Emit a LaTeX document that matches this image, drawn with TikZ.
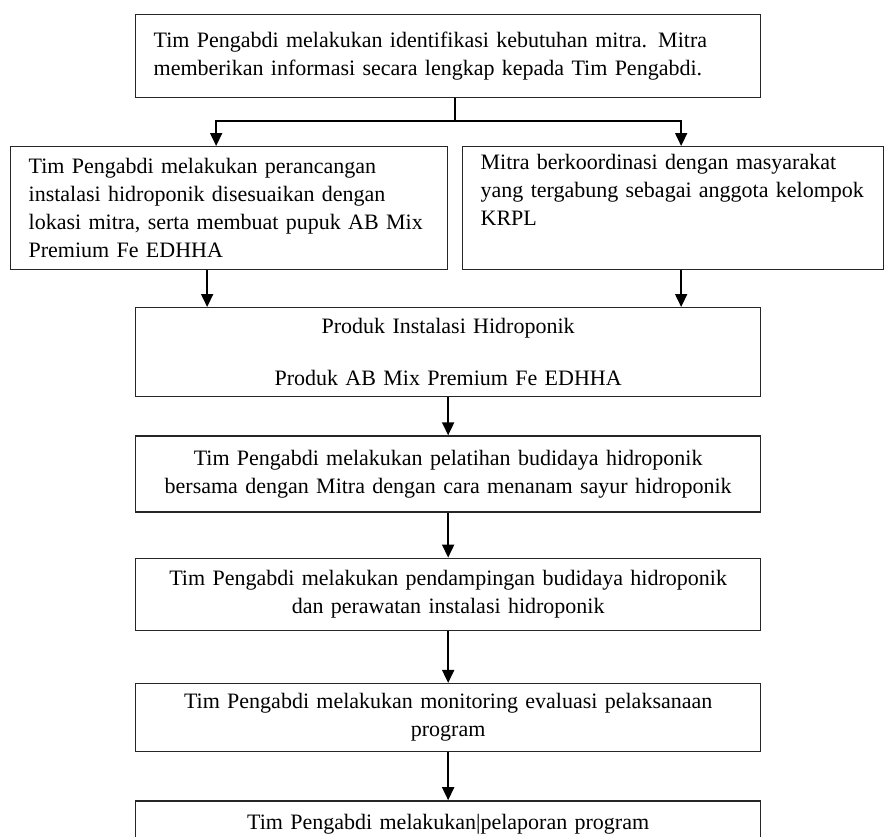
\documentclass[tikz,border=0pt]{standalone}
\usepackage{fontspec}
\setmainfont{Liberation Serif}
\usetikzlibrary{positioning,calc,arrows.meta}

\begin{document}
\begin{tikzpicture}[x=1pt,y=-1pt,>={Triangle[width=12pt,length=13pt]},font=\fontsize{22}{28}\selectfont]
  \tikzstyle{box}=[draw=black!85,rectangle,line width=1.3pt,inner xsep=18pt,inner ysep=3pt,anchor=north west]
  \tikzstyle{wide}=[box,minimum width=625pt,text width=589pt,align=center]
  \tikzstyle{link}=[->,line width=1.8pt]

  \useasboundingbox (0,0) rectangle (885,836);

  \node[box,minimum width=625pt,minimum height=83pt,text width=589pt,align=left] (ident) at (135,14)
    {Tim Pengabdi melakukan identifikasi kebutuhan mitra. Mitra\\memberikan informasi secara lengkap kepada Tim Pengabdi.};

  \node[box,minimum width=437pt,minimum height=123pt,text width=401pt,align=left] (rancang) at (10,146)
    {Tim Pengabdi melakukan perancangan\\instalasi hidroponik disesuaikan dengan\\lokasi mitra, serta membuat pupuk AB Mix\\Premium Fe EDHHA};
  \node[box,minimum width=421pt,minimum height=123pt,text width=385pt,align=left] (koordinasi) at (462,146)
    {Mitra berkoordinasi dengan masyarakat\\yang tergabung sebagai anggota kelompok\\KRPL\\ \strut};

  \node[wide,minimum height=89pt] (produk) at (135,307)
    {Produk Instalasi Hidroponik\\[24pt]Produk AB Mix Premium Fe EDHHA};
  \node[wide,minimum height=76pt,below=38pt of produk] (pelatihan)
    {Tim Pengabdi melakukan pelatihan budidaya hidroponik\\bersama dengan Mitra dengan cara menanam sayur hidroponik};
  \node[wide,minimum height=72pt,below=45pt of pelatihan] (pendampingan)
    {Tim Pengabdi melakukan pendampingan budidaya hidroponik\\dan perawatan instalasi hidroponik};
  \node[wide,minimum height=68pt,below=52pt of pendampingan] (monitoring)
    {Tim Pengabdi melakukan monitoring evaluasi pelaksanaan\\program};
  \node[wide,minimum height=46pt,below=48pt of monitoring] (laporan)
    {Tim Pengabdi melakukan|pelaporan program};

  % percabangan dari kotak pertama
  \coordinate (split) at (455,121);
  \draw[line width=1.5pt] (ident.south -| split) -- (split);
  \draw[link] (split) -| ([xshift=-13pt]rancang.north);
  \draw[link] (split) -| ([xshift=8pt]koordinasi.north);

  \draw[link] ([xshift=-22pt]rancang.south) -- ([xshift=-22pt]rancang.south |- produk.north);
  \draw[link] ([xshift=8pt]koordinasi.south) -- ([xshift=8pt]koordinasi.south |- produk.north);

  \foreach \a/\b in {produk/pelatihan,pelatihan/pendampingan,pendampingan/monitoring,monitoring/laporan}
    \draw[link] (\a) -- (\b);
\end{tikzpicture}
\end{document}
